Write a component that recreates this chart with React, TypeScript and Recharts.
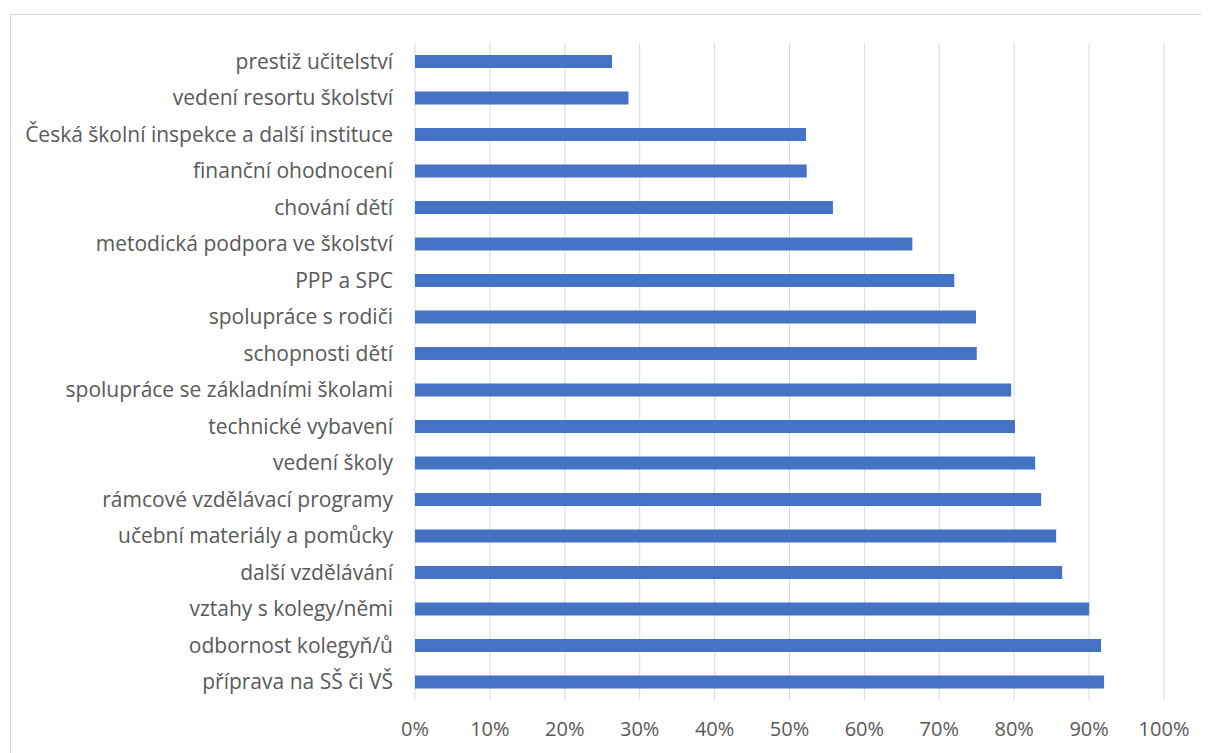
import { BarChart, Bar, XAxis, YAxis, CartesianGrid } from "recharts";

const categories = [
  "prestiž učitelství",
  "vedení resortu školství",
  "Česká školní inspekce a další instituce",
  "finanční ohodnocení",
  "chování dětí",
  "metodická podpora ve školství",
  "PPP a SPC",
  "spolupráce s rodiči",
  "schopnosti dětí",
  "spolupráce se základními školami",
  "technické vybavení",
  "vedení školy",
  "rámcové vzdělávací programy",
  "učební materiály a pomůcky",
  "další vzdělávání",
  "vztahy s kolegy/němi",
  "odbornost kolegyň/ů",
  "příprava na SŠ či VŠ",
];

const values = [
  26.3, 28.5, 52.2, 52.3, 55.8, 66.4, 72.0, 74.9, 75.0, 79.6, 80.1, 82.8, 83.6,
  85.6, 86.4, 90.0, 91.6, 92.0,
];

const xTicks = [0, 10, 20, 30, 40, 50, 60, 70, 80, 90, 100];

const data = categories.map((name, i) => ({ name, value: values[i] }));

const font = "'Open Sans', Lato, sans-serif";

export default function App() {
  return (
    <div
      style={{
        marginLeft: 2,
        marginTop: 6,
        width: 1210,
        height: 760,
        border: "1px solid #d9d9d9",
        background: "#fff",
        fontFamily: font,
      }}
    >
      <BarChart
        width={1198}
        height={738}
        data={data}
        layout="vertical"
        margin={{ top: 28, right: 45, bottom: 0, left: 0 }}
      >
        <CartesianGrid horizontal={false} stroke="#d9d9d9" />
        <XAxis
          type="number"
          domain={[0, 100]}
          ticks={xTicks}
          tickFormatter={(v) => `${v}%`}
          axisLine={false}
          tickLine={false}
          tickSize={0}
          tickMargin={22}
          height={53}
          interval={0}
          tick={{ fill: "#595959", fontSize: 20, fontFamily: font }}
        />
        <YAxis
          type="category"
          dataKey="name"
          width={404}
          axisLine={false}
          tickLine={false}
          tickSize={0}
          tickMargin={22}
          interval={0}
          tick={{ fill: "#595959", fontSize: 21, fontFamily: font }}
        />
        <Bar dataKey="value" fill="#4472c4" barSize={13} isAnimationActive={false} />
      </BarChart>
    </div>
  );
}
